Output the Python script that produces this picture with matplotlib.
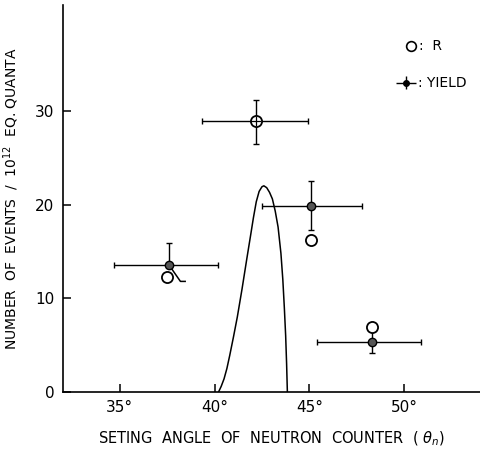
import matplotlib
matplotlib.use("Agg")
import matplotlib.pyplot as plt

# --- data ---
yield_x = [37.58, 42.16, 45.1, 48.3]
yield_y = [13.6, 28.9, 19.8, 5.3]
yield_xerr_lo = [2.9, 2.8, 2.6, 2.9]
yield_xerr_hi = [2.6, 2.75, 2.7, 2.6]
yield_yerr_lo = [0.0, 2.4, 2.5, 1.1]
yield_yerr_hi = [2.3, 2.3, 2.7, 1.5]
yield_filled = [True, False, True, True]

r_x = [37.5, 42.16, 45.1, 48.3]
r_y = [12.3, 28.9, 16.2, 6.9]

curve_x = [40.21, 40.35, 40.5, 40.65, 40.8, 41.0, 41.2, 41.45, 41.7, 41.9,
           42.05, 42.2, 42.35, 42.5, 42.6, 42.75, 42.9, 43.05, 43.2, 43.35,
           43.5, 43.6, 43.68, 43.75, 43.8, 43.84]
curve_y = [0.0, 0.6, 1.4, 2.5, 3.9, 5.9, 8.0, 11.0, 14.2, 16.7,
           18.6, 20.3, 21.4, 21.9, 22.0, 21.8, 21.3, 20.6, 19.3, 17.6,
           14.8, 12.0, 9.0, 6.0, 3.0, 0.0]

slash_x = [37.58, 38.2, 38.45]
slash_y = [13.6, 11.8, 11.8]

xticks = [35, 40, 45, 50]
xticklabels = ["35°", "40°", "45°", "50°"]
yticks = [0, 10, 20, 30]

fig = plt.figure(figsize=(4.8, 4.49), dpi=100)
ax = fig.add_axes([0.131, 0.127, 0.869, 0.862])

ax.plot(curve_x, curve_y, color="black", lw=1.1)
ax.plot(slash_x, slash_y, color="black", lw=1.1)

ax.errorbar(yield_x, yield_y,
            xerr=[yield_xerr_lo, yield_xerr_hi],
            yerr=[yield_yerr_lo, yield_yerr_hi],
            fmt="none", ecolor="black",
            elinewidth=1.0, capsize=2.5, capthick=1.0)
fx = [x for x, f in zip(yield_x, yield_filled) if f]
fy = [y for y, f in zip(yield_y, yield_filled) if f]
ax.plot(fx, fy, "o", ms=6, mfc="#555555", mec="black", ls="none")
ax.plot(r_x, r_y, "o", ms=8, mfc="white", mec="black", mew=1.3, ls="none")
# the 29-point has a cross through the open circle
ax.plot([yield_x[1]] * 2, [yield_y[1] - 0.45, yield_y[1] + 0.45], color="black", lw=0.9)
ax.plot([yield_x[1] - 0.22, yield_x[1] + 0.22], [yield_y[1]] * 2, color="black", lw=0.9)

ax.set_xlim(32, 54)
ax.set_ylim(0, 41.3)
ax.set_xticks(xticks)
ax.set_xticklabels(xticklabels)
ax.set_yticks(yticks)
ax.tick_params(direction="in", length=6, width=1.1, labelsize=11, pad=6)
for s in ["top", "right"]:
    ax.spines[s].set_visible(False)
for s in ["left", "bottom"]:
    ax.spines[s].set_linewidth(1.2)

ax.set_xlabel(r"SETING  ANGLE  OF  NEUTRON  COUNTER  ( $\theta_n$)", fontsize=10.5, labelpad=10)
ax.set_ylabel(r"NUMBER  OF  EVENTS  /  10$^{12}$  EQ. QUANTA", fontsize=10, labelpad=10)

# legend drawn by hand
ax.plot([50.35], [36.9], "o", ms=7, mfc="white", mec="black", mew=1.2, clip_on=False)
ax.text(50.8, 36.9, ":  R", fontsize=10, va="center")
ax.errorbar([50.1], [33.0], xerr=0.55, yerr=0.7, fmt="o", color="black",
            ms=4, elinewidth=1.0, capsize=0, clip_on=False)
ax.text(50.75, 33.0, ": YIELD", fontsize=10, va="center")

fig.savefig("out.png", dpi=100)
